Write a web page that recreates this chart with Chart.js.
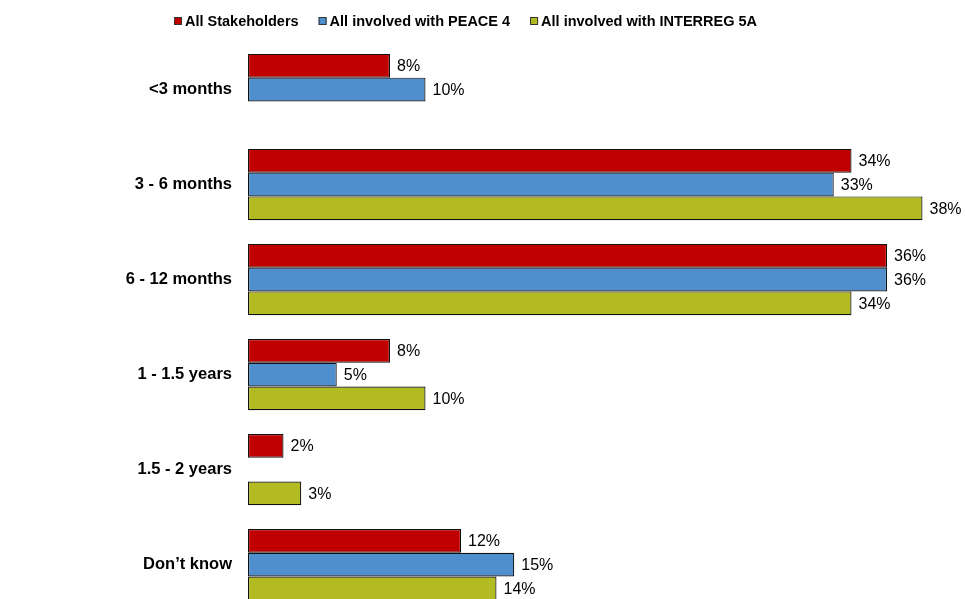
<!DOCTYPE html>
<html>
<head>
<meta charset="utf-8">
<script src="https://cdn.jsdelivr.net/npm/chart.js@4.4.1/dist/chart.umd.min.js"></script>
<style>
  html, body { margin: 0; padding: 0; background: #fff; overflow: hidden; width: 965px; height: 599px; }
  #wrap { position: relative; width: 965px; height: 599px; overflow: hidden; }
  #durationChart { position: absolute; left: 0; top: 0; }
</style>
</head>
<body>
<!-- canvas is taller than the window: the last group is cut off at the bottom, like the source -->
<div id="wrap"><canvas id="durationChart" width="965" height="622"></canvas></div>
<script>
// categories and series
const categories = ['<3 months', '3 - 6 months', '6 - 12 months', '1 - 1.5 years', '1.5 - 2 years', 'Don\u2019t know'];
const allStakeholders = [8, 34, 36, 8, 2, 12];
const peace4 = [10, 33, 36, 5, null, 15];
const interreg5a = [null, 38, 34, 10, 3, 14];
const seriesNames = ['All Stakeholders', 'All involved with PEACE 4', 'All involved with INTERREG 5A'];
const seriesColors = ['#C00000', '#4F8FCD', '#B3BB22'];

const FONT = 'Arial, "Liberation Sans", sans-serif';

// draws "NN%" just right of each bar end
const valueLabels = {
    id: 'valueLabels',
    afterDatasetsDraw(chart) {
        const ctx = chart.ctx;
        ctx.save();
        ctx.font = '16px ' + FONT;
        ctx.fillStyle = '#000';
        ctx.textAlign = 'left';
        ctx.textBaseline = 'middle';
        chart.data.datasets.forEach((ds, i) => {
            const meta = chart.getDatasetMeta(i);
            meta.data.forEach((bar, j) => {
                const v = ds.data[j];
                if (v === null || v === undefined) return;
                ctx.fillText(v + '%', bar.x + 7, bar.y + 1);
            });
        });
        ctx.restore();
    }
};

// small legend: square, tiny gap, bold text (built-in legend spaces it too wide)
const topLegend = {
    id: 'topLegend',
    afterDraw(chart) {
        const ctx = chart.ctx;
        const box = 8, gap = 3, itemGap = 20, y = 21;
        ctx.save();
        ctx.font = 'bold 14.5px ' + FONT;
        ctx.textBaseline = 'middle';
        const items = chart.data.datasets.map(ds => ({
            text: ds.label,
            color: ds.backgroundColor,
            w: box + gap + ctx.measureText(ds.label).width
        }));
        const total = items.reduce((s, it) => s + it.w, 0) + itemGap * (items.length - 1);
        let x = (chart.width - total) / 2 - 17;
        items.forEach(it => {
            ctx.fillStyle = it.color;
            ctx.fillRect(x, y - box / 2, box, box);
            ctx.strokeStyle = '#333';
            ctx.lineWidth = 1;
            ctx.strokeRect(x + 0.5, y - box / 2 + 0.5, box - 1, box - 1);
            ctx.fillStyle = '#000';
            ctx.fillText(it.text, x + box + gap, y + 1);
            x += it.w + itemGap;
        });
        ctx.restore();
    }
};

const ctx = document.getElementById('durationChart').getContext('2d');
const myChart = new Chart(ctx, {
    type: 'bar',
    data: {
        labels: categories,
        datasets: [
            {
                label: seriesNames[0],
                data: allStakeholders,
                backgroundColor: seriesColors[0],
                borderColor: '#111',
                borderWidth: 1.2,
                borderSkipped: false
            },
            {
                label: seriesNames[1],
                data: peace4,
                backgroundColor: seriesColors[1],
                borderColor: '#111',
                borderWidth: 1.2,
                borderSkipped: false
            },
            {
                label: seriesNames[2],
                data: interreg5a,
                backgroundColor: seriesColors[2],
                borderColor: '#111',
                borderWidth: 1.2,
                borderSkipped: false
            }
        ]
    },
    options: {
        indexAxis: 'y',
        responsive: false,
        animation: false,
        categoryPercentage: 0.75,
        barPercentage: 1,
        layout: { padding: { top: 0, right: 7, bottom: 0, left: 0 } },
        scales: {
            x: {
                position: 'top',
                min: 0,
                max: 40,
                grid: { display: false, drawTicks: false },
                border: { display: false },
                ticks: { display: false },
                afterFit: (s) => { s.height = 42; }
            },
            y: {
                // gap to the bars comes from tickLength (hidden) so it doesn't pad the chart area
                grid: { display: false, drawTicks: true, tickLength: 16 },
                border: { display: false },
                ticks: {
                    color: '#000',
                    padding: 0,
                    font: { family: FONT, size: 16.5, weight: 'bold' }
                },
                afterFit: (s) => { s.width = 248; }
            }
        },
        plugins: {
            legend: { display: false },
            tooltip: { enabled: false }
        }
    },
    plugins: [valueLabels, topLegend]
});
</script>
</body>
</html>
